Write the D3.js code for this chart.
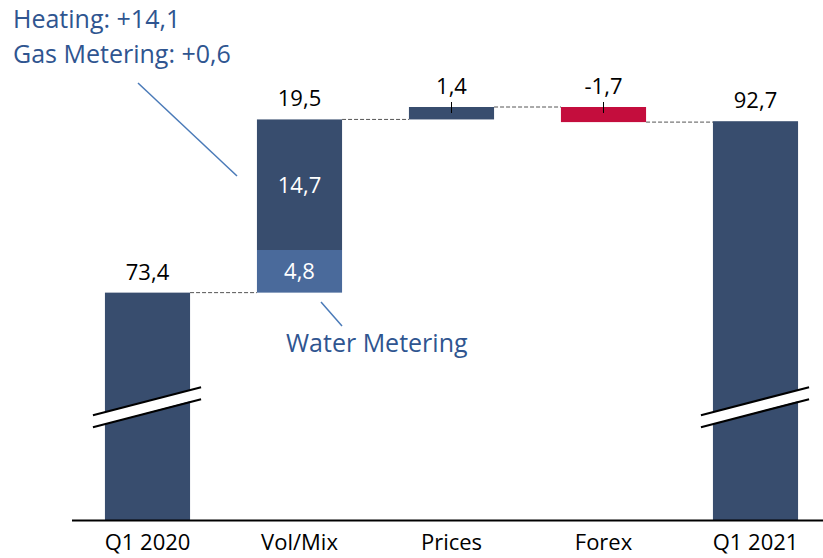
<!DOCTYPE html>
<html>
<head>
<meta charset="utf-8">
<script src="https://cdn.jsdelivr.net/npm/d3@7"></script>
<style>
  body { margin: 0; background: #fff; }
  svg text { font-family: "Open Sans", "Noto Sans", sans-serif; }
</style>
</head>
<body>
<div id="chart"></div>
<script>
// categories and values
var categories = ["Q1 2020", "Vol/Mix", "Prices", "Forex", "Q1 2021"];
var deltas = [73.4, 19.5, 1.4, -1.7, 92.7];
var isTotal = [true, false, false, false, true];
var labels = ["73,4", "19,5", "1,4", "-1,7", "92,7"];
// Vol/Mix split
var volMixParts = [4.8, 14.7];
var volMixLabels = ["4,8", "14,7"];
var annoTop = ["Heating: +14,1", "Gas Metering: +0,6"];
var annoBottom = "Water Metering";

var w = 823, h = 558;
var base = 520;

var svg = d3.select("#chart").append("svg")
  .attr("width", w).attr("height", h);

var x = d3.scaleBand()
  .domain(categories)
  .range([71.5, 831.5])
  .paddingInner(0.44)
  .paddingOuter(0.22);

var y = d3.scaleLinear()
  .domain([47.8, 94.3])
  .range([base, 107]);

// compute waterfall steps
var run = 0, rows = [];
deltas.forEach(function(d, i) {
  var start, end;
  if (isTotal[i]) { start = y.domain()[0]; end = d; run = d; }
  else { start = run; end = run + d; run = end; }
  rows.push({cat: categories[i], start: start, end: end, total: isTotal[i], label: labels[i], d: d});
});

var dark = "#384d6e", light = "#4a6a9b", red = "#c40d3d";

// connectors
for (var i = 0; i < rows.length - 1; i++) {
  var lvl = rows[i].end;
  svg.append("line")
    .attr("x1", x(rows[i].cat) + x.bandwidth())
    .attr("x2", x(rows[i + 1].cat))
    .attr("y1", y(lvl)).attr("y2", y(lvl))
    .attr("stroke", "#555").attr("stroke-width", 1)
    .attr("stroke-dasharray", "4,2");
}

// bars
rows.forEach(function(r, i) {
  if (r.cat === "Vol/Mix") {
    var s = r.start;
    volMixParts.forEach(function(p, j) {
      svg.append("rect")
        .attr("x", x(r.cat)).attr("width", x.bandwidth())
        .attr("y", y(s + p)).attr("height", y(s) - y(s + p))
        .attr("fill", j === 0 ? light : dark);
      svg.append("text")
        .attr("x", x(r.cat) + x.bandwidth() / 2)
        .attr("y", (y(s) + y(s + p)) / 2 + 8)
        .attr("text-anchor", "middle").attr("fill", "#fff")
        .style("font-size", "22px")
        .text(volMixLabels[j]);
      s += p;
    });
  } else {
    var top = Math.max(r.start, r.end), bot = Math.min(r.start, r.end);
    svg.append("rect")
      .attr("x", x(r.cat)).attr("width", x.bandwidth())
      .attr("y", y(top)).attr("height", y(bot) - y(top))
      .attr("fill", r.d < 0 ? red : dark);
  }
  var topv = Math.max(r.start, r.end);
  var cx = x(r.cat) + x.bandwidth() / 2;
  var small = !r.total && r.cat !== "Vol/Mix";
  svg.append("text")
    .attr("x", cx)
    .attr("y", y(topv) - 13)
    .attr("text-anchor", "middle").attr("fill", "#000")
    .style("font-size", "22px")
    .text(r.label);
  if (small) {
    svg.append("line")
      .attr("x1", cx).attr("x2", cx)
      .attr("y1", y(topv) - 5).attr("y2", y(topv) + 6)
      .attr("stroke", "#000").attr("stroke-width", 1);
  }
});

// axis break marks on total bars
var breakV = 59.6;
rows.filter(function(r) { return r.total; }).forEach(function(r) {
  var x0 = x(r.cat) - 12, x1 = x(r.cat) + x.bandwidth() + 11;
  var yb = y(breakV);
  var g = svg.append("g");
  g.append("polygon")
    .attr("points", [[x0, yb], [x1, yb - 28], [x1, yb - 17], [x0, yb + 12]].join(" "))
    .attr("fill", "#fff");
  [0, 12].forEach(function(off) {
    g.append("line")
      .attr("x1", x0).attr("y1", yb + off)
      .attr("x2", x1).attr("y2", yb - 28 + off)
      .attr("stroke", "#000").attr("stroke-width", 2);
  });
});

// x axis
var xaxis = d3.axisBottom(x).tickSize(0).tickPadding(14);
var gX = svg.append("g")
  .attr("transform", "translate(0," + base + ")")
  .call(xaxis);
gX.select(".domain").attr("stroke", "#000").attr("stroke-width", 2);
gX.selectAll("text").style("font-size", "22px").attr("fill", "#000")
  .style("font-family", "'Open Sans', sans-serif");

// annotations
var annoColor = "#2f5590", lineColor = "#4a7ab8";
annoTop.forEach(function(t, i) {
  svg.append("text").attr("x", 13).attr("y", 28 + i * 35)
    .attr("fill", annoColor).style("font-size", "25px").text(t);
});
svg.append("line").attr("x1", 138).attr("y1", 83).attr("x2", 237).attr("y2", 176)
  .attr("stroke", lineColor).attr("stroke-width", 1.5);
svg.append("line").attr("x1", 321).attr("y1", 302).attr("x2", 342).attr("y2", 326)
  .attr("stroke", lineColor).attr("stroke-width", 1.5);
svg.append("text").attr("x", 286).attr("y", 352)
  .attr("fill", annoColor).style("font-size", "25px").text(annoBottom);
</script>
</body>
</html>
